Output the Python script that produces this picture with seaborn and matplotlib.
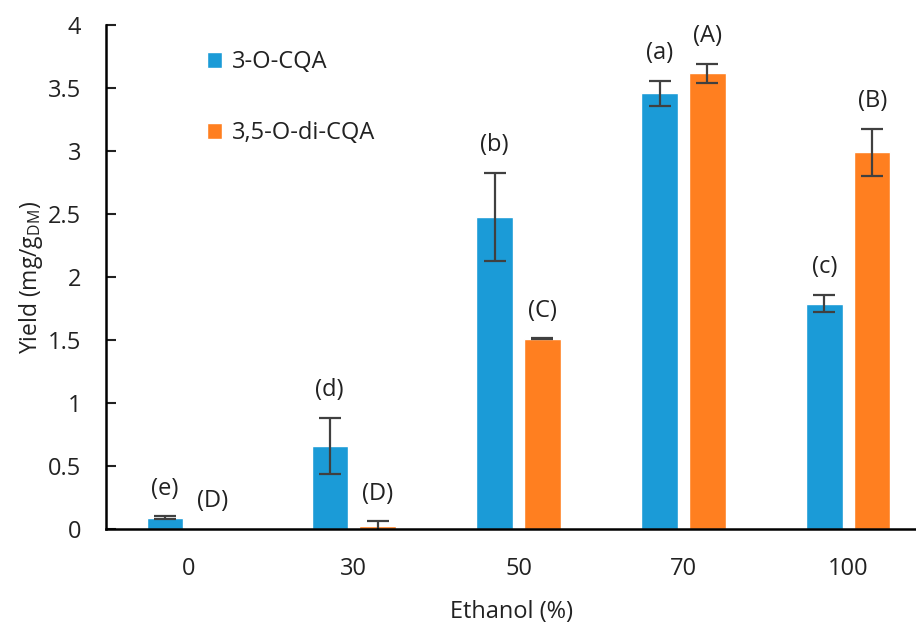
import pandas as pd
import matplotlib.pyplot as plt
import seaborn as sns

ethanol = ['0', '30', '50', '70', '100']
cqa = [0.09, 0.66, 2.48, 3.46, 1.79]
cqa_err = [0.01, 0.22, 0.35, 0.10, 0.07]
dicqa = [0.0, 0.02, 1.51, 3.62, 2.99]
dicqa_err = [0.0, 0.04, 0.005, 0.075, 0.19]
cqa_letters = ['(e)', '(d)', '(b)', '(a)', '(c)']
dicqa_letters = ['(D)', '(D)', '(C)', '(A)', '(B)']
series = ['3-O-CQA', '3,5-O-di-CQA']

df = pd.DataFrame({
    'ethanol': ethanol * 2,
    'compound': [series[0]] * 5 + [series[1]] * 5,
    'yield': cqa + dicqa,
})

sns.set_theme(style="white")
plt.rcParams['font.family'] = ['Open Sans', 'DejaVu Sans']
plt.rcParams['text.color'] = '#222222'
plt.rcParams['axes.labelcolor'] = '#222222'
plt.rcParams['xtick.color'] = '#222222'
plt.rcParams['ytick.color'] = '#222222'

fig = plt.figure(figsize=(9.16, 6.32), dpi=100)
ax = fig.add_axes([0.116, 0.163, 0.884, 0.797])

palette = ['#1b9bd7', '#ff7f20']
sns.barplot(data=df, x='ethanol', y='yield', hue='compound', palette=palette,
            width=0.58, gap=0.24, errorbar=None, saturation=1, ax=ax)

# error bars + significance letters on top of each bar
for cont, vals, errs, letters in zip(ax.containers, [cqa, dicqa], [cqa_err, dicqa_err],
                                     [cqa_letters, dicqa_letters]):
    for bar, v, e, lab in zip(cont, vals, errs, letters):
        xc = bar.get_x() + bar.get_width() / 2
        if e > 0:
            ax.errorbar(xc, v, yerr=e, fmt='none', ecolor='#404040',
                        elinewidth=1.6, capsize=8, capthick=1.6)
        ax.text(xc, v + e + 0.22, lab, ha='center', va='center', fontsize=17)

ax.set_ylim(0, 4)
ax.set_xlim(-0.5, 4.41)
ax.set_yticks([0, 0.5, 1, 1.5, 2, 2.5, 3, 3.5, 4])
ax.set_yticklabels(['0', '0.5', '1', '1.5', '2', '2.5', '3', '3.5', '4'])
ax.tick_params(axis='y', direction='in', length=7, width=1.5, pad=18, labelsize=17, left=True)
ax.tick_params(axis='x', length=0, pad=20, labelsize=17)

for s in ['top', 'right']:
    ax.spines[s].set_visible(False)
for s in ['left', 'bottom']:
    ax.spines[s].set_color('black')
    ax.spines[s].set_linewidth(1.8)

ax.set_xlabel('Ethanol (%)', fontsize=17, labelpad=14)
ax.set_ylabel('Yield (mg/g$_\\mathregular{DM}$)', fontsize=16.5, labelpad=2)

handles, labels = ax.get_legend_handles_labels()
ax.legend(handles, labels, loc='upper left', frameon=False, fontsize=17,
          bbox_to_anchor=(207 / 916, 1 - 50 / 632), bbox_transform=fig.transFigure,
          borderpad=0, borderaxespad=0, handlelength=0.65, handleheight=0.65,
          handletextpad=0.4, labelspacing=2.0)

fig.savefig('out.png', dpi=100)
